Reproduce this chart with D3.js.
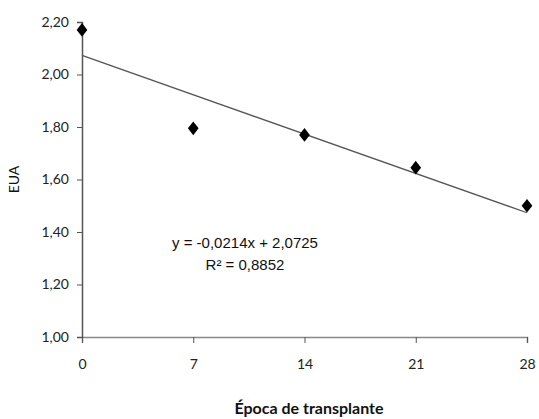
<html>
<head>
<style type="text/css">
	body { margin: 0; background: #fff; }
	.tick text { font-family: Lato, "Open Sans", sans-serif; font-size: 14px; fill: #222; }
	.eq { font-family: "Liberation Sans Narrow", "Liberation Sans", Arial, sans-serif; font-size: 15px; fill: #111; }
	.title { font-family: Lato, "Open Sans", sans-serif; font-size: 14px; fill: #111; }
</style>
<script src="https://d3js.org/d3.v7.min.js"></script>
</head>
<body>
<script type="text/javascript">
	var epoca = [0, 7, 14, 21, 28];
	var eua = [2.17, 1.795, 1.77, 1.645, 1.50];
	var x_ticks = [0, 7, 14, 21, 28];
	var y_ticks = [1.00, 1.20, 1.40, 1.60, 1.80, 2.00, 2.20];
	var slope = -0.0214, intercept = 2.0725;
	var eq_lines = ['y = -0,0214x + 2,0725', 'R\u00b2 = 0,8852'];

	function draw_chart() {
		var width = 539, height = 419;
		var m_left = 82, m_right = 527, m_top = 22, m_bottom = 337;

		var x_scale = d3.scaleLinear().domain([0, 28]).range([m_left, m_right]);
		var y_scale = d3.scaleLinear().domain([1.0, 2.2]).range([m_bottom, m_top]);
		var fmt = function(d) { return d3.format('.2f')(d).replace('.', ','); };

		var svg = d3.select('body').append('svg')
			.attr('width', width)
			.attr('height', height);

		var x_axis = svg.append('g')
			.attr('transform', 'translate(0,' + m_bottom + ')')
			.call(d3.axisBottom(x_scale).tickValues(x_ticks).tickFormat(d3.format('d')).tickSize(6).tickPadding(16));
		x_axis.select('.domain').attr('stroke', '#888').attr('stroke-width', 1.5);
		x_axis.selectAll('.tick line').attr('stroke', '#555');

		var y_axis = svg.append('g')
			.attr('transform', 'translate(' + m_left + ',0)')
			.call(d3.axisLeft(y_scale).tickValues(y_ticks).tickFormat(fmt).tickSize(5).tickPadding(8));
		y_axis.select('.domain').attr('stroke', '#555').attr('stroke-width', 1.5);
		y_axis.selectAll('.tick line').attr('stroke', '#555');

		// linha de tendencia
		svg.append('line')
			.attr('x1', x_scale(0)).attr('y1', y_scale(intercept))
			.attr('x2', x_scale(28)).attr('y2', y_scale(slope * 28 + intercept))
			.attr('stroke', '#555').attr('stroke-width', 1.3);

		svg.selectAll('path.pt')
			.data(epoca)
			.enter()
			.append('path')
			.attr('class', 'pt')
			.attr('d', d3.symbol().type(d3.symbolDiamond).size(75))
			.attr('transform', function(d, i) { return 'translate(' + x_scale(d) + ',' + y_scale(eua[i]) + ') scale(1.15,0.85)'; })
			.attr('fill', '#000');

		svg.selectAll('text.eq')
			.data(eq_lines)
			.enter()
			.append('text')
			.attr('class', 'eq')
			.attr('x', 245)
			.attr('y', function(d, i) { return 248 + i * 22; })
			.attr('text-anchor', 'middle')
			.text(function(d) { return d; });

		svg.append('text')
			.attr('class', 'title')
			.attr('transform', 'translate(19,' + ((m_top + m_bottom) / 2) + ') rotate(-90)')
			.attr('text-anchor', 'middle')
			.text('EUA');

		svg.append('text')
			.attr('class', 'title')
			.attr('x', 309)
			.attr('y', 414)
			.attr('text-anchor', 'middle')
			.style('font-size', '16px')
			.style('font-weight', 'bold')
			.text('\u00c9poca de transplante');
	}

	draw_chart();
</script>
</body>
</html>
